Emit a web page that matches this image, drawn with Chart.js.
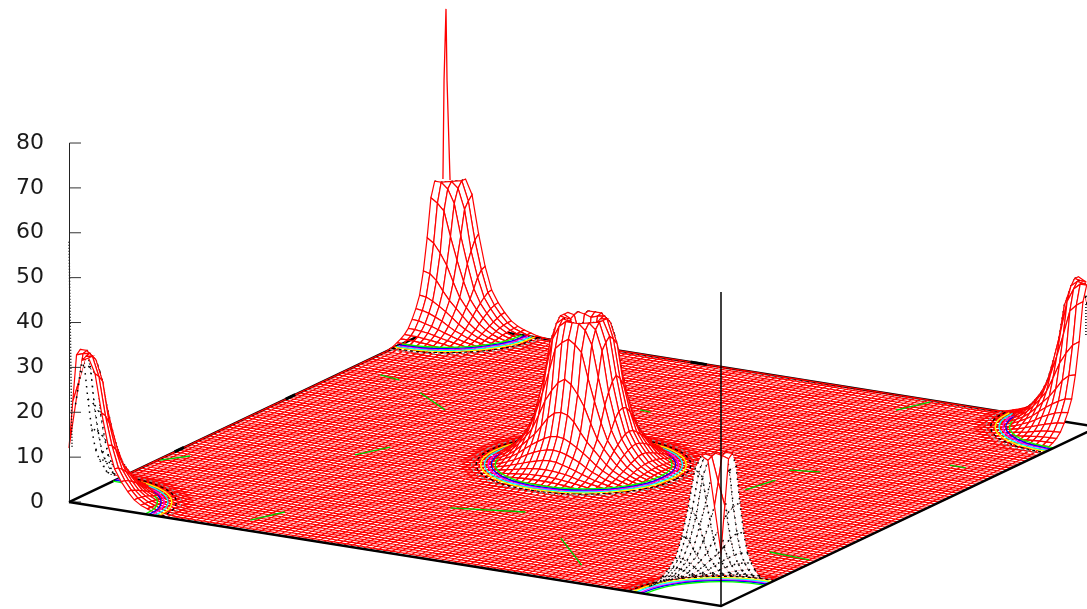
<!DOCTYPE html>
<html>
<head>
<meta charset="utf-8">
<script src="https://cdn.jsdelivr.net/npm/chart.js@4"></script>
<style>
  html, body { margin: 0; padding: 0; background: #fff; }
  canvas { display: block; }
</style>
</head>
<body>
<canvas id="grafico" width="1087" height="609"></canvas>
<script>
// tick labels of the z axis
const zTicks = [0, 10, 20, 30, 40, 50, 60, 70, 80];

// grid of the surface, flat outside the humps
const gridSize = 100;

// where the humps sit on the grid (one in the middle, one on each corner)
const peakI = [50, 0, 100, 0, 100];
const peakJ = [50, 0, 0, 100, 100];

const humpHeights = [
  [12, 22, 32, 32.8, 29.5, 21, 14, 9, 6.4, 4.4, 2.8, 1.85, 1.25, 0.8, 0.37, 0.15, 0],
  [22, 27, 32.5, 32.8, 28.5, 20, 13.6, 8.8, 6.2, 4.3, 2.75, 1.8, 1.25, 0.78, 0.36, 0.15, 0],
  [32, 32.5, 32.8, 31.5, 27, 18, 12.3, 8.1, 5.8, 3.9, 2.6, 1.75, 1.2, 0.75, 0.34, 0.13, 0],
  [32.8, 32.8, 31.5, 28.5, 21.5, 15.5, 10.2, 7.2, 5.2, 3.5, 2.4, 1.6, 1.1, 0.7, 0.3, 0.11, 0],
  [29.5, 28.5, 27, 21.5, 16.5, 12, 8.3, 6.2, 4.5, 3, 2.1, 1.45, 1, 0.6, 0.26, 0.07, 0],
  [21, 20, 18, 15.5, 12, 8.8, 6.8, 5.1, 3.6, 2.5, 1.75, 1.22, 0.8, 0.48, 0.2, 0.03, 0],
  [14, 13.6, 12.3, 10.2, 8.3, 6.8, 5.3, 3.9, 2.8, 2.05, 1.45, 1.05, 0.67, 0.3, 0.12, 0, 0],
  [9, 8.8, 8.1, 7.2, 6.2, 5.1, 3.9, 2.95, 2.25, 1.6, 1.17, 0.78, 0.5, 0.22, 0.05, 0, 0],
  [6.4, 6.2, 5.8, 5.2, 4.5, 3.6, 2.8, 2.25, 1.65, 1.25, 0.92, 0.6, 0.28, 0.11, 0, 0, 0],
  [4.4, 4.3, 3.9, 3.5, 3, 2.5, 2.05, 1.6, 1.25, 0.95, 0.65, 0.33, 0.15, 0.03, 0, 0, 0],
  [2.8, 2.75, 2.6, 2.4, 2.1, 1.75, 1.45, 1.17, 0.92, 0.65, 0.34, 0.2, 0.05, 0, 0, 0, 0],
  [1.85, 1.8, 1.75, 1.6, 1.45, 1.22, 1.05, 0.78, 0.6, 0.33, 0.2, 0.07, 0, 0, 0, 0, 0],
  [1.25, 1.25, 1.2, 1.1, 1, 0.8, 0.67, 0.5, 0.28, 0.15, 0.05, 0, 0, 0, 0, 0, 0],
  [0.8, 0.78, 0.75, 0.7, 0.6, 0.48, 0.3, 0.22, 0.11, 0.03, 0, 0, 0, 0, 0, 0, 0],
  [0.37, 0.36, 0.34, 0.3, 0.26, 0.2, 0.12, 0.05, 0, 0, 0, 0, 0, 0, 0, 0, 0],
  [0.15, 0.15, 0.13, 0.11, 0.07, 0.03, 0, 0, 0, 0, 0, 0, 0, 0, 0, 0, 0],
  [0, 0, 0, 0, 0, 0, 0, 0, 0, 0, 0, 0, 0, 0, 0, 0, 0]
];

// thin spikes on top of the corners
const backSpikeI = [-0.47, -0.3, 0, 0.16, 0.62];
const backSpikeZ = [32, 54, 70, 54, 32];
const leftSpikeI = [0, 0.47];
const leftSpikeZ = [58, 12];
const rightSpikeI = [98.15, 98.15];
const rightSpikeZ = [27, 20];

// contour rings on the base: distance from the hump centre, colour of each level
const ringRadius = [14.8, 14.2, 13.6, 13.1, 12.6, 12.2, 11.7];
const ringColor = ['#999999', '#000000', '#ffff00', '#00ffff', '#ff00ff', '#0000ff', '#00ff00'];
const ringDirI = [1, 0.97, 0.87, 0.71, 0.5, 0.26, 0, -0.26, -0.5, -0.71, -0.87, -0.97, -1, -0.97, -0.87, -0.71, -0.5, -0.26, 0, 0.26, 0.5, 0.71, 0.87, 0.97, 1];
const ringDirJ = [0, 0.26, 0.5, 0.71, 0.87, 0.97, 1, 0.97, 0.87, 0.71, 0.5, 0.26, 0, -0.26, -0.5, -0.71, -0.87, -0.97, -1, -0.97, -0.87, -0.71, -0.5, -0.26, 0];

// stray green contour pieces on the flat part (i1, j1, i2, j2)
const greenBits = [
  [5, 73.9, 8.4, 73.1], [13.9, 69.1, 20.9, 63.6], [21.4, 38.8, 23.6, 44.4],
  [0.3, 23.6, 2.8, 27.3], [25.2, 4.5, 27.2, 10.2], [45.2, 23, 54.8, 26.3],
  [65.2, 17.7, 74.1, 7.8], [74.7, 50.2, 75.8, 56.3], [75, 61.4, 78.9, 62.7],
  [92.5, 25.8, 99, 25.2], [72.7, 93.6, 74.7, 99.2], [43.3, 76.6, 45, 76.4],
  [92.2, 74.2, 94.7, 74.1]
];

// little black tick marks on the back edges (i1, j1, i2, j2)
const edgeTicks = [
  [0, 28, 0, 30.5], [0, 57.5, 0, 60], [0, 85, 0, 87.5], [37.5, 100, 40, 100]
];

// projection of the grid on the page
const stepIx = 652 / gridSize, stepJx = 377 / gridSize;
const stepIy = -104 / gridSize / 4.4875, stepJy = 179 / gridSize / 4.4875;

function proyectar(i, j, z) {
  return { x: i * stepIx + j * stepJx, y: z + i * stepIy + j * stepJy };
}

function altura(i, j) {
  for (let p = 0; p < peakI.length; p++) {
    const di = Math.abs(i - peakI[p]), dj = Math.abs(j - peakJ[p]);
    if (di <= 16 && dj <= 16) return humpHeights[di][dj];
  }
  return 0;
}

// true when a cell is not flat, those get drawn one by one
function enHump(i, j) {
  return altura(i, j) > 0 || altura(i + 1, j) > 0 || altura(i + 1, j + 1) > 0 || altura(i, j + 1) > 0;
}

function area(pts) {
  let s = 0;
  for (let k = 0; k < 4; k++) s += pts[k].x * pts[k + 1].y - pts[k + 1].x * pts[k].y;
  return s;
}

function linea(data, color, width, extra) {
  return Object.assign({
    data: data, borderColor: color, borderWidth: width, showLine: true,
    pointRadius: 0, fill: false, spanGaps: false, clip: false
  }, extra || {});
}

// plane lines, leaving out whatever lies inside a hump
const planoPts = [];
const GAP = { x: 0, y: null };
for (let a = 0; a <= gridSize; a++) {
  let abierto = false;
  for (let b = 0; b < gridSize; b++) {
    const dentro = enHump(b, a) || enHump(b, a - 1);
    if (!dentro) {
      if (!abierto) planoPts.push(proyectar(b, a, 0));
      planoPts.push(proyectar(b + 1, a, 0));
      abierto = true;
    } else if (abierto) { planoPts.push(GAP); abierto = false; }
  }
  if (abierto) planoPts.push(GAP);
  abierto = false;
  for (let b = 0; b < gridSize; b++) {
    const dentro = enHump(a, b) || enHump(a - 1, b);
    if (!dentro) {
      if (!abierto) planoPts.push(proyectar(a, b, 0));
      planoPts.push(proyectar(a, b + 1, 0));
      abierto = true;
    } else if (abierto) { planoPts.push(GAP); abierto = false; }
  }
  if (abierto) planoPts.push(GAP);
}

// cells of the humps: low ones stay see through, the rest hide what is behind
const celdasBajas = [];
const celdasAltas = [];
for (let i = 0; i < gridSize; i++) {
  for (let j = 0; j < gridSize; j++) {
    if (!enHump(i, j)) continue;
    const zs = [altura(i, j), altura(i + 1, j), altura(i + 1, j + 1), altura(i, j + 1)];
    const pts = [
      proyectar(i, j, zs[0]), proyectar(i + 1, j, zs[1]),
      proyectar(i + 1, j + 1, zs[2]), proyectar(i, j + 1, zs[3]), proyectar(i, j, zs[0])
    ];
    const arriba = area(pts) > 0;
    const ds = arriba ? linea(pts, '#ff0000', 1.2) : linea(pts, '#000000', 1.5, { borderDash: [1.5, 5] });
    if (Math.min(...zs) >= 1.4) {
      ds.tapar = true;
      ds.prof = proyectar(i + 0.5, j + 0.5, 0).y;
      celdasAltas.push(ds);
    } else {
      celdasBajas.push(ds);
    }
  }
}
celdasAltas.sort((a, b) => b.prof - a.prof);

// contour rings around every hump
const anillos = [];
ringRadius.forEach((r, n) => {
  peakI.forEach((pi, p) => {
    const pts = ringDirI.map((d, k) => {
      const i = pi + d * r, j = peakJ[p] + ringDirJ[k] * r;
      if (i < 0 || i > gridSize || j < 0 || j > gridSize) return GAP;
      return proyectar(i, j, 0);
    });
    anillos.push(linea(pts, ringColor[n], 1.3, { tension: 0.4, borderDash: n < 2 ? [3, 3] : [] }));
  });
});

const verdes = greenBits.map((b) => linea([proyectar(b[0], b[1], 0), proyectar(b[2], b[3], 0)], '#00c800', 1.4));
const marcas = edgeTicks.map((b) => linea([proyectar(b[0], b[1], 0), proyectar(b[2], b[3], 0)], '#000000', 3));

const espinaAtras = linea(backSpikeI.map((d, k) => proyectar(d, gridSize, backSpikeZ[k])), '#ff0000', 1.3);
const espinaIzq = linea(leftSpikeI.map((d, k) => proyectar(d, 0, leftSpikeZ[k])), '#000000', 1.5, { borderDash: [1, 2] });
const espinaDer = linea(rightSpikeI.map((d, k) => proyectar(d, gridSize, rightSpikeZ[k])), '#000000', 1.5, { borderDash: [1, 2] });

// z axis and its ticks
const ejeZ = linea([{ x: 0.5, y: 0 }, { x: 0.5, y: 80 }], '#222222', 1);
const ticksZ = zTicks.map((t) => linea([{ x: 0.5, y: t }, { x: 12, y: t }], '#333333', 1));
const ejeFrente = linea([proyectar(gridSize, 0, 0), proyectar(gridSize, 0, 70)], '#000000', 1.5);

const marcoAtras = linea([proyectar(0, 0, 0), proyectar(0, gridSize, 0), proyectar(gridSize, gridSize, 0)], '#000000', 2.5);
const marcoFrente = linea([proyectar(0, 0, 0), proyectar(gridSize, 0, 0), proyectar(gridSize, gridSize, 0)], '#000000', 2.5);

// paint order, from the bottom up (chart.js paints the first dataset last)
const capas = [marcoAtras, linea(planoPts, '#ff0000', 1.2)]
  .concat(verdes, marcas, celdasBajas, anillos, celdasAltas, [espinaAtras, espinaIzq, espinaDer], ticksZ, [ejeZ, marcoFrente, ejeFrente]);

const taparBlanco = {
  id: 'taparBlanco',
  beforeDatasetDraw(chart, args) {
    if (!chart.data.datasets[args.index].tapar) return;
    const ctx = chart.ctx;
    ctx.save();
    ctx.beginPath();
    args.meta.data.forEach((p, k) => { if (k === 0) ctx.moveTo(p.x, p.y); else ctx.lineTo(p.x, p.y); });
    ctx.closePath();
    ctx.fillStyle = '#ffffff';
    ctx.fill();
    ctx.restore();
  }
};

new Chart(document.getElementById('grafico'), {
  type: 'scatter',
  data: { datasets: capas.reverse() },
  plugins: [taparBlanco],
  options: {
    responsive: false,
    animation: false,
    events: [],
    layout: { padding: 0 },
    plugins: { legend: { display: false }, tooltip: { enabled: false } },
    scales: {
      x: { type: 'linear', display: false, min: 0, max: 1018 },
      y: {
        type: 'linear', min: -23.84, max: 111.87,
        border: { display: false },
        grid: { display: false, drawTicks: false },
        afterFit: (s) => { s.width = 69; s.paddingTop = 0; s.paddingBottom = 0; },
        afterBuildTicks: (s) => { s.ticks = zTicks.map((v) => ({ value: v })); },
        ticks: {
          color: '#1a1a1a', padding: 25, autoSkip: false,
          font: { family: '"DejaVu Sans"', size: 22 },
          callback: (v) => String(v)
        }
      }
    }
  }
});
</script>
</body>
</html>
